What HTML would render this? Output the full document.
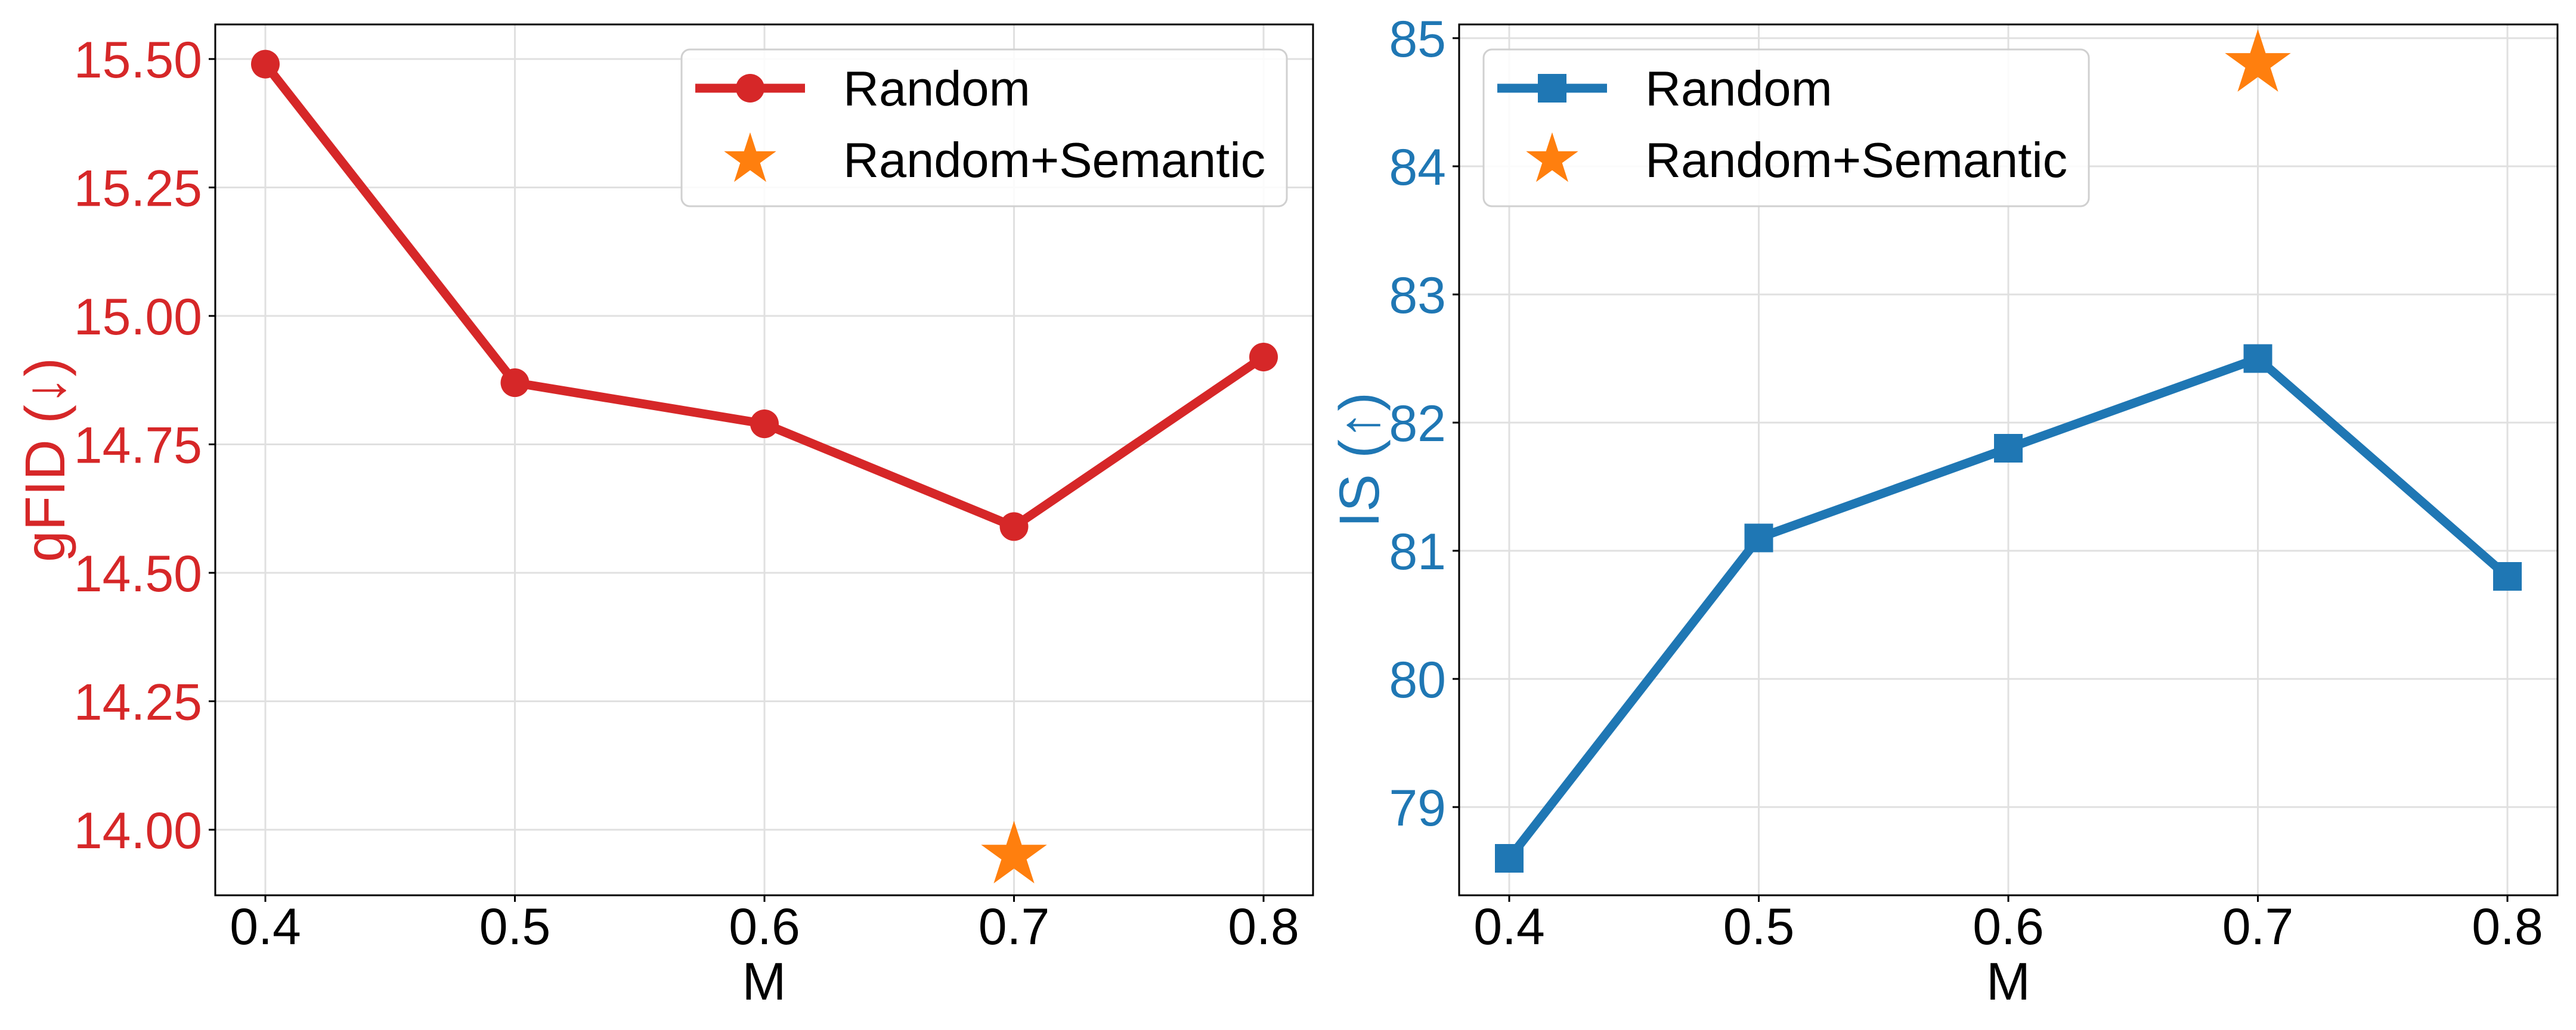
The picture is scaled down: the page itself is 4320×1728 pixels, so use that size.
<!DOCTYPE html>
<html><head><meta charset="utf-8"><style>
html,body{margin:0;padding:0;background:#fff;}
svg{display:block;font-family:"Liberation Sans",Arial,sans-serif;}
</style></head><body>
<svg id="chart" width="4320" height="1728" viewBox="0 0 4320 1728" xmlns="http://www.w3.org/2000/svg"></svg>
<script>
const categories = [0.4, 0.5, 0.6, 0.7, 0.8];
const xTickLabels = ["0.4", "0.5", "0.6", "0.7", "0.8"];
const gfidValues = [15.49, 14.87, 14.79, 14.59, 14.92];
const gfidStar = [0.7, 13.95];
const gfidTicks = [14.00, 14.25, 14.50, 14.75, 15.00, 15.25, 15.50];
const gfidTickLabels = ["14.00", "14.25", "14.50", "14.75", "15.00", "15.25", "15.50"];
const isValues = [78.6, 81.1, 81.8, 82.5, 80.8];
const isStar = [0.7, 84.8];
const isTicks = [79, 80, 81, 82, 83, 84, 85];
const isTickLabels = ["79", "80", "81", "82", "83", "84", "85"];

const NS = "http://www.w3.org/2000/svg";
const svg = document.getElementById("chart");
function mk(tag, attrs, parent, text) {
  const e = document.createElementNS(NS, tag);
  for (const k in attrs) e.setAttribute(k, attrs[k]);
  if (text !== undefined) e.textContent = text;
  (parent || svg).appendChild(e);
  return e;
}
function starPts(cx, cy, R) {
  const r = R * 0.382; let p = [];
  for (let i = 0; i < 10; i++) {
    const a = -Math.PI / 2 + i * Math.PI / 5, rr = i % 2 ? r : R;
    p.push((cx + rr * Math.cos(a)).toFixed(1) + "," + (cy + rr * Math.sin(a)).toFixed(1));
  }
  return p.join(" ");
}

function panel(cfg) {
  const g = mk("g", {});
  
  
  const L = cfg.left, R = cfg.right, T = 41, B = 1502;
  const xs = v => cfg.x04 + (v - 0.4) / 0.1 * 418.5;
  const ys = v => cfg.yRef + (cfg.vRef - v) * cfg.ppu;
  categories.forEach((c, i) => {
    const l = mk("line", {x1: xs(c), x2: xs(c), y1: T, y2: B, stroke: "#e0e0e0", "stroke-width": 3}, g);
    
    
  });
  cfg.ticks.forEach((t, i) => {
    const l = mk("line", {x1: L, x2: R, y1: ys(t), y2: ys(t), stroke: "#e0e0e0", "stroke-width": 3}, g);
    
    
  });
  const pts = categories.map((c, i) => xs(c) + "," + ys(cfg.values[i])).join(" ");
  const pl = mk("polyline", {points: pts, fill: "none", stroke: cfg.color, "stroke-width": 15, "stroke-linejoin": "round"}, g);
  
  
  categories.forEach((c, i) => {
    let m;
    if (cfg.marker === "circle") m = mk("circle", {cx: xs(c), cy: ys(cfg.values[i]), r: 24, fill: cfg.color}, g);
    else m = mk("rect", {x: xs(c) - 24, y: ys(cfg.values[i]) - 24, width: 48, height: 48, fill: cfg.color}, g);
    
    
  });
  const st = mk("polygon", {points: starPts(xs(cfg.star[0]), ys(cfg.star[1]), 58), fill: "#ff7f0e"}, g);
  
  
  const fr = mk("rect", {x: L, y: T, width: R - L, height: B - T, fill: "none", stroke: "#000", "stroke-width": 3}, g);
  
  
  categories.forEach((c, i) => {
    mk("line", {x1: xs(c), x2: xs(c), y1: B, y2: B + 11, stroke: "#000", "stroke-width": 3}, g);
    const t = mk("text", {x: xs(c), y: B + 82, "font-size": 86, "text-anchor": "middle", fill: "#000"}, g, xTickLabels[i]);
    
    
  });
  cfg.ticks.forEach((tv, i) => {
    mk("line", {x1: L - 11, x2: L, y1: ys(tv), y2: ys(tv), stroke: "#000", "stroke-width": 3}, g);
    const t = mk("text", {x: L - 22, y: ys(tv) + 31, "font-size": 86, "text-anchor": "end", fill: cfg.color}, g, cfg.tickLabels[i]);
    
    
  });
  const xl = mk("text", {x: (L + R) / 2, y: 1677, "font-size": 89, "text-anchor": "middle", fill: "#000"}, g, "M");
  
  
  const yl = mk("text", {x: 0, y: 0, "font-size": 95, "text-anchor": "middle", fill: cfg.color,
    transform: `translate(${cfg.ylabX},${(T + B) / 2}) rotate(-90)`}, g, cfg.ylabel);
  
  
  const lg = mk("g", {}, g);
  
  
  const bx = cfg.legX;
  mk("rect", {x: bx, y: 83, width: 1015, height: 263, rx: 14, fill: "#fff", "fill-opacity": 0.85, stroke: "#d0d0d0", "stroke-width": 3}, lg);
  mk("line", {x1: bx + 23, x2: bx + 207, y1: 148, y2: 148, stroke: cfg.color, "stroke-width": 15}, lg);
  if (cfg.marker === "circle") mk("circle", {cx: bx + 115, cy: 148, r: 24, fill: cfg.color}, lg);
  else mk("rect", {x: bx + 91, y: 124, width: 48, height: 48, fill: cfg.color}, lg);
  const e1 = mk("text", {x: bx + 271, y: 177, "font-size": 83, fill: "#000"}, lg, "Random");
  
  
  mk("polygon", {points: starPts(bx + 115, 268, 46), fill: "#ff7f0e"}, lg);
  const e2 = mk("text", {x: bx + 271, y: 297, "font-size": 83, fill: "#000"}, lg, "Random+Semantic");
  
  
}

panel({name: "gfid-panel", left: 361, right: 2202, x04: 445, yRef: 99, vRef: 15.5, ppu: 862,
  values: gfidValues, star: gfidStar, ticks: gfidTicks, tickLabels: gfidTickLabels,
  color: "#d62728", marker: "circle", ylabel: "gFID (↓)", ylabX: 108, legX: 1143});
panel({name: "is-panel", left: 2447, right: 4289, x04: 2531, yRef: 1354, vRef: 79, ppu: 215,
  values: isValues, star: isStar, ticks: isTicks, tickLabels: isTickLabels,
  color: "#1f77b4", marker: "square", ylabel: "IS (↑)", ylabX: 2312, legX: 2488});
</script>
</body></html>
